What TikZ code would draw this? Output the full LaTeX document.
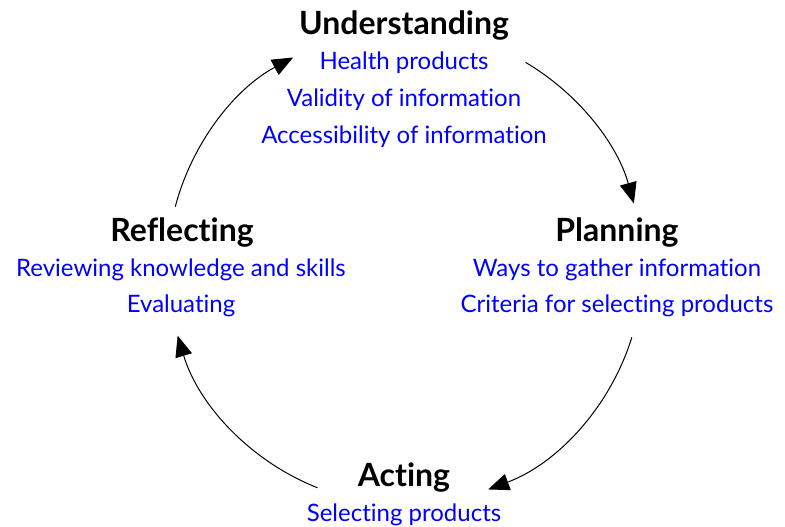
\documentclass[tikz,border=0pt]{standalone}
\usepackage{fontspec}
\setmainfont{Lato}[Ligatures={NoCommon,NoContextual,NoRequired}]
\usetikzlibrary{arrows.meta,calc}
\begin{document}
\begin{tikzpicture}[x=1pt,y=1pt,
  title/.style={font=\fontsize{32}{36}\selectfont\bfseries, text=black, inner sep=0pt, anchor=base},
  item/.style={font=\fontsize{24}{28}\selectfont, text=blue, inner sep=0pt, anchor=base},
  cycle/.style={line width=1pt, -{Triangle[length=21pt,width=17pt]}}]
\useasboundingbox (0,0) rectangle (785,527);

% Understanding
\node[title] (und)  at (404,492) {Understanding};
\node[item]  (und1) at (404,457) {Health products};
\node[item]  (und2) at (404,420) {Validity of information};
\node[item]  (und3) at (404,383) {Accessibility of information};

% Planning
\node[title] (pla)  at (617,285) {Planning};
\node[item]  (pla1) at (617,250) {Ways to gather information};
\node[item]  (pla2) at (617,214) {Criteria for selecting products};

% Reflecting
\node[title] (ref)  at (182,285) {Reflecting};
\node[item]  (ref1) at (181,250) {Reviewing knowledge and skills};
\node[item]  (ref2) at (181,214) {Evaluating};

% Acting
\node[title] (act)  at (404,40) {Acting};
\node[item]  (act1) at (404,5) {Selecting products};

% cycle arcs
\coordinate (c) at (405,260);
\def\R{237.5}
\coordinate (a1) at ($(c)+(59.5:\R)$);
\coordinate (a2) at ($(c)+(-17.2:\R)$);
\coordinate (a3) at ($(c)+(248.4:\R)$);
\coordinate (a4) at ($(c)+(165.3:\R)$);
\draw[cycle] (a1) arc[start angle=59.5, end angle=15.5, radius=\R];
\draw[cycle] (a2) arc[start angle=-17.2, end angle=-69.5, radius=\R];
\draw[cycle] (a3) arc[start angle=248.4, end angle=196.8, radius=\R];
\draw[cycle] (a4) arc[start angle=165.3, end angle=118.1, radius=\R];
\end{tikzpicture}
\end{document}
